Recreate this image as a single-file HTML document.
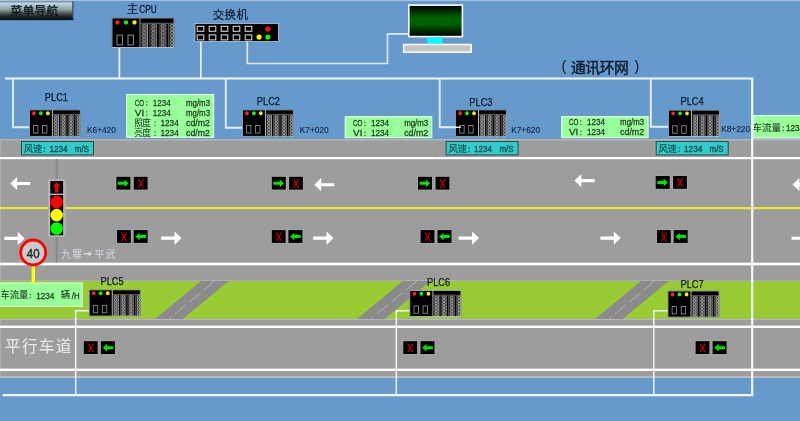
<!DOCTYPE html>
<html lang="zh">
<head>
<meta charset="utf-8">
<title>隧道监控</title>
<style>
html,body{margin:0;padding:0;background:#6699cc;overflow:hidden;}
body{width:800px;height:421px;font-family:"Liberation Sans",sans-serif;}
svg{display:block;position:absolute;left:-8px;top:-8px;}
text{white-space:pre;}
</style>
</head>
<body>
<svg width="816" height="437" viewBox="-8 -8 816 437" shape-rendering="geometricPrecision">
<defs>
<filter id="soft" filterUnits="userSpaceOnUse" x="-10" y="-10" width="820" height="441" color-interpolation-filters="sRGB"><feGaussianBlur stdDeviation="0.5"/></filter>
<linearGradient id="btn" x1="0" y1="0" x2="0" y2="1">
<stop offset="0" stop-color="#7d8c9b"/><stop offset="0.05" stop-color="#8d9dad"/><stop offset="0.12" stop-color="#b9d8ee"/><stop offset="0.28" stop-color="#a7bccb"/>
<stop offset="0.46" stop-color="#86a29f"/><stop offset="0.57" stop-color="#6e7868"/><stop offset="0.68" stop-color="#48505a"/>
<stop offset="0.81" stop-color="#242c30"/><stop offset="0.96" stop-color="#0c1214"/><stop offset="1" stop-color="#0a0f12"/></linearGradient>
<linearGradient id="scr" x1="0" y1="0" x2="0" y2="1">
<stop offset="0" stop-color="#000000"/><stop offset="0.1" stop-color="#001400"/><stop offset="0.38" stop-color="#005c00"/><stop offset="0.5" stop-color="#006600"/>
<stop offset="0.62" stop-color="#005c00"/><stop offset="0.9" stop-color="#001400"/><stop offset="1" stop-color="#000000"/></linearGradient>
<symbol id="plc" viewBox="0 0 63 30.5" preserveAspectRatio="none">
<rect x="0" y="0" width="63" height="30.5" fill="#000"/>
<rect x="29.80" y="6" width="5.80" height="24" fill="#3a3a3a"/>
<circle cx="32.60" cy="8.30" r="1.55" fill="none" stroke="#8a8a8a" stroke-width="1.0"/>
<circle cx="32.60" cy="11.80" r="1.55" fill="none" stroke="#8a8a8a" stroke-width="1.0"/>
<circle cx="32.60" cy="15.30" r="1.55" fill="none" stroke="#8a8a8a" stroke-width="1.0"/>
<circle cx="32.60" cy="18.80" r="1.55" fill="none" stroke="#8a8a8a" stroke-width="1.0"/>
<circle cx="32.60" cy="22.30" r="1.55" fill="none" stroke="#8a8a8a" stroke-width="1.0"/>
<circle cx="32.60" cy="25.80" r="1.55" fill="none" stroke="#8a8a8a" stroke-width="1.0"/>
<circle cx="32.60" cy="29.30" r="1.55" fill="none" stroke="#8a8a8a" stroke-width="1.0"/>
<rect x="35.40" y="6" width="0.8" height="24" fill="#d0d0d0"/>
<rect x="39.10" y="6" width="5.80" height="24" fill="#3a3a3a"/>
<circle cx="41.90" cy="8.30" r="1.55" fill="none" stroke="#8a8a8a" stroke-width="1.0"/>
<circle cx="41.90" cy="11.80" r="1.55" fill="none" stroke="#8a8a8a" stroke-width="1.0"/>
<circle cx="41.90" cy="15.30" r="1.55" fill="none" stroke="#8a8a8a" stroke-width="1.0"/>
<circle cx="41.90" cy="18.80" r="1.55" fill="none" stroke="#8a8a8a" stroke-width="1.0"/>
<circle cx="41.90" cy="22.30" r="1.55" fill="none" stroke="#8a8a8a" stroke-width="1.0"/>
<circle cx="41.90" cy="25.80" r="1.55" fill="none" stroke="#8a8a8a" stroke-width="1.0"/>
<circle cx="41.90" cy="29.30" r="1.55" fill="none" stroke="#8a8a8a" stroke-width="1.0"/>
<rect x="44.70" y="6" width="0.8" height="24" fill="#8f8f8f"/>
<rect x="38.00" y="6" width="0.7" height="24" fill="#6e6e6e"/>
<rect x="48.40" y="6" width="5.80" height="24" fill="#3a3a3a"/>
<circle cx="51.20" cy="8.30" r="1.55" fill="none" stroke="#8a8a8a" stroke-width="1.0"/>
<circle cx="51.20" cy="11.80" r="1.55" fill="none" stroke="#8a8a8a" stroke-width="1.0"/>
<circle cx="51.20" cy="15.30" r="1.55" fill="none" stroke="#8a8a8a" stroke-width="1.0"/>
<circle cx="51.20" cy="18.80" r="1.55" fill="none" stroke="#8a8a8a" stroke-width="1.0"/>
<circle cx="51.20" cy="22.30" r="1.55" fill="none" stroke="#8a8a8a" stroke-width="1.0"/>
<circle cx="51.20" cy="25.80" r="1.55" fill="none" stroke="#8a8a8a" stroke-width="1.0"/>
<circle cx="51.20" cy="29.30" r="1.55" fill="none" stroke="#8a8a8a" stroke-width="1.0"/>
<rect x="54.00" y="6" width="0.8" height="24" fill="#8f8f8f"/>
<rect x="47.30" y="6" width="0.7" height="24" fill="#6e6e6e"/>
<rect x="57.70" y="6" width="5.40" height="24" fill="#3a3a3a"/>
<circle cx="60.50" cy="8.30" r="1.55" fill="none" stroke="#8a8a8a" stroke-width="1.0"/>
<circle cx="60.50" cy="11.80" r="1.55" fill="none" stroke="#8a8a8a" stroke-width="1.0"/>
<circle cx="60.50" cy="15.30" r="1.55" fill="none" stroke="#8a8a8a" stroke-width="1.0"/>
<circle cx="60.50" cy="18.80" r="1.55" fill="none" stroke="#8a8a8a" stroke-width="1.0"/>
<circle cx="60.50" cy="22.30" r="1.55" fill="none" stroke="#8a8a8a" stroke-width="1.0"/>
<circle cx="60.50" cy="25.80" r="1.55" fill="none" stroke="#8a8a8a" stroke-width="1.0"/>
<circle cx="60.50" cy="29.30" r="1.55" fill="none" stroke="#8a8a8a" stroke-width="1.0"/>
<rect x="56.60" y="6" width="0.7" height="24" fill="#6e6e6e"/>
<rect x="28.6" y="5.3" width="34" height="0.9" fill="#6a6a6a"/>
<rect x="28.0" y="0.5" width="1.0" height="29.5" fill="#8a8a8a"/>
<circle cx="6.00" cy="5.0" r="2.15" fill="#ff2020"/>
<circle cx="14.50" cy="5.0" r="2.15" fill="#10f010"/>
<circle cx="23.00" cy="5.0" r="2.15" fill="#f4f000"/>
<rect x="5.50" y="17.6" width="5.4" height="9.8" fill="#000" stroke="#8e8e8e" stroke-width="1.0"/>
<rect x="16.50" y="17.6" width="5.4" height="9.8" fill="#000" stroke="#8e8e8e" stroke-width="1.0"/>
<rect x="0.4" y="0.4" width="62.2" height="29.7" fill="none" stroke="#c9d6e6" stroke-width="0.9"/>
</symbol>
<symbol id="plcs" viewBox="0 0 63 30.5" preserveAspectRatio="none">
<rect x="0" y="0" width="63" height="30.5" fill="#000"/>
<rect x="29.80" y="6" width="5.80" height="24" fill="#3c3c3c"/>
<circle cx="32.60" cy="8.30" r="1.55" fill="none" stroke="#acacac" stroke-width="1.0"/>
<circle cx="32.60" cy="11.80" r="1.55" fill="none" stroke="#acacac" stroke-width="1.0"/>
<circle cx="32.60" cy="15.30" r="1.55" fill="none" stroke="#acacac" stroke-width="1.0"/>
<circle cx="32.60" cy="18.80" r="1.55" fill="none" stroke="#acacac" stroke-width="1.0"/>
<circle cx="32.60" cy="22.30" r="1.55" fill="none" stroke="#acacac" stroke-width="1.0"/>
<circle cx="32.60" cy="25.80" r="1.55" fill="none" stroke="#acacac" stroke-width="1.0"/>
<circle cx="32.60" cy="29.30" r="1.55" fill="none" stroke="#acacac" stroke-width="1.0"/>
<rect x="35.40" y="6" width="0.8" height="24" fill="#e8e8e8"/>
<rect x="39.10" y="6" width="5.80" height="24" fill="#3c3c3c"/>
<circle cx="41.90" cy="8.30" r="1.55" fill="none" stroke="#acacac" stroke-width="1.0"/>
<circle cx="41.90" cy="11.80" r="1.55" fill="none" stroke="#acacac" stroke-width="1.0"/>
<circle cx="41.90" cy="15.30" r="1.55" fill="none" stroke="#acacac" stroke-width="1.0"/>
<circle cx="41.90" cy="18.80" r="1.55" fill="none" stroke="#acacac" stroke-width="1.0"/>
<circle cx="41.90" cy="22.30" r="1.55" fill="none" stroke="#acacac" stroke-width="1.0"/>
<circle cx="41.90" cy="25.80" r="1.55" fill="none" stroke="#acacac" stroke-width="1.0"/>
<circle cx="41.90" cy="29.30" r="1.55" fill="none" stroke="#acacac" stroke-width="1.0"/>
<rect x="44.70" y="6" width="0.8" height="24" fill="#8f8f8f"/>
<rect x="38.00" y="6" width="0.7" height="24" fill="#808080"/>
<rect x="48.40" y="6" width="5.80" height="24" fill="#3c3c3c"/>
<circle cx="51.20" cy="8.30" r="1.55" fill="none" stroke="#acacac" stroke-width="1.0"/>
<circle cx="51.20" cy="11.80" r="1.55" fill="none" stroke="#acacac" stroke-width="1.0"/>
<circle cx="51.20" cy="15.30" r="1.55" fill="none" stroke="#acacac" stroke-width="1.0"/>
<circle cx="51.20" cy="18.80" r="1.55" fill="none" stroke="#acacac" stroke-width="1.0"/>
<circle cx="51.20" cy="22.30" r="1.55" fill="none" stroke="#acacac" stroke-width="1.0"/>
<circle cx="51.20" cy="25.80" r="1.55" fill="none" stroke="#acacac" stroke-width="1.0"/>
<circle cx="51.20" cy="29.30" r="1.55" fill="none" stroke="#acacac" stroke-width="1.0"/>
<rect x="54.00" y="6" width="0.8" height="24" fill="#8f8f8f"/>
<rect x="47.30" y="6" width="0.7" height="24" fill="#808080"/>
<rect x="57.70" y="6" width="5.40" height="24" fill="#3c3c3c"/>
<circle cx="60.50" cy="8.30" r="1.55" fill="none" stroke="#acacac" stroke-width="1.0"/>
<circle cx="60.50" cy="11.80" r="1.55" fill="none" stroke="#acacac" stroke-width="1.0"/>
<circle cx="60.50" cy="15.30" r="1.55" fill="none" stroke="#acacac" stroke-width="1.0"/>
<circle cx="60.50" cy="18.80" r="1.55" fill="none" stroke="#acacac" stroke-width="1.0"/>
<circle cx="60.50" cy="22.30" r="1.55" fill="none" stroke="#acacac" stroke-width="1.0"/>
<circle cx="60.50" cy="25.80" r="1.55" fill="none" stroke="#acacac" stroke-width="1.0"/>
<circle cx="60.50" cy="29.30" r="1.55" fill="none" stroke="#acacac" stroke-width="1.0"/>
<rect x="56.60" y="6" width="0.7" height="24" fill="#808080"/>
<rect x="28.6" y="5.3" width="34" height="0.9" fill="#6a6a6a"/>
<rect x="28.0" y="0.5" width="1.0" height="29.5" fill="#dcdcdc"/>
<circle cx="6.00" cy="4.3" r="2.3" fill="#f42424"/>
<circle cx="14.50" cy="4.3" r="2.3" fill="#18ee18"/>
<circle cx="23.00" cy="4.3" r="2.3" fill="#f0ec10"/>
<rect x="5.50" y="18.0" width="5.4" height="8.4" fill="#000" stroke="#8e8e8e" stroke-width="1.0"/>
<rect x="16.50" y="18.0" width="5.4" height="8.4" fill="#000" stroke="#8e8e8e" stroke-width="1.0"/>
<rect x="0.4" y="0.4" width="62.2" height="29.7" fill="none" stroke="#c9d6e6" stroke-width="0.9"/>
</symbol>
</defs>
<g filter="url(#soft)">
<rect x="-10.00" y="-10.00" width="820.00" height="441.00" fill="#6699cc"/>
<rect x="-10.00" y="-10.00" width="820.00" height="11.00" fill="#a9c1dc"/>
<rect x="-10.00" y="139.00" width="820.00" height="239.00" fill="#9d9d9d"/>
<rect x="-10.00" y="139.00" width="820.00" height="1.60" fill="#b3b3b3"/>
<rect x="-10.00" y="376.00" width="820.00" height="2.00" fill="#b9b9b9"/>
<rect x="-10.00" y="139.00" width="10.90" height="239.00" fill="#b0b0b0"/>
<rect x="-10.00" y="281.20" width="820.00" height="37.60" fill="#99cc33"/>
<rect x="-10.00" y="280.20" width="820.00" height="1.00" fill="#b2b2b2"/>
<rect x="-10.00" y="318.80" width="820.00" height="1.20" fill="#b6b6b6"/>
<polygon points="155.00,318.90 182.80,318.90 228.70,281.00 200.90,281.00" fill="#8b8b8b"/>
<line x1="214.80" y1="281.00" x2="168.90" y2="318.90" stroke="#c6c6c6" stroke-width="0.7" stroke-dasharray="14.3 4.4"/>
<polygon points="357.00,318.90 384.80,318.90 430.70,281.00 402.90,281.00" fill="#8b8b8b"/>
<line x1="416.80" y1="281.00" x2="370.90" y2="318.90" stroke="#c6c6c6" stroke-width="0.7" stroke-dasharray="14.3 4.4"/>
<polygon points="595.00,318.90 622.80,318.90 668.70,281.00 640.90,281.00" fill="#8b8b8b"/>
<line x1="654.80" y1="281.00" x2="608.90" y2="318.90" stroke="#c6c6c6" stroke-width="0.7" stroke-dasharray="14.3 4.4"/>
<rect x="-10.00" y="157.00" width="820.00" height="2.20" fill="#ffffff"/>
<rect x="-10.00" y="207.00" width="820.00" height="2.10" fill="#ecec2a"/>
<rect x="-10.00" y="262.70" width="820.00" height="2.60" fill="#ffffff"/>
<rect x="-10.00" y="325.60" width="820.00" height="2.40" fill="#ffffff"/>
<rect x="-10.00" y="368.60" width="820.00" height="2.40" fill="#ffffff"/>
<rect x="126.70" y="94.50" width="87.00" height="42.80" fill="#99ff99" stroke="#f2fff2" stroke-width="1"/>
<rect x="345.20" y="116.70" width="86.60" height="21.00" fill="#99ff99" stroke="#f2fff2" stroke-width="1"/>
<rect x="561.70" y="116.70" width="86.40" height="21.00" fill="#99ff99" stroke="#f2fff2" stroke-width="1"/>
<rect x="753.00" y="115.60" width="70.00" height="22.40" fill="#99ff99" stroke="#f2fff2" stroke-width="1"/>
<rect x="-12.00" y="283.00" width="94.30" height="23.40" fill="#99ff99" stroke="#e6ffe0" stroke-width="1"/>
<text x="134.80" y="105.60" font-family="'Liberation Sans', sans-serif" font-size="9.0" fill="#24422a" stroke="#24422a" stroke-width="0.3" textLength="9.40" lengthAdjust="spacingAndGlyphs">CO</text>
<rect x="146.15" y="101.00" width="1.15" height="1.2" fill="#24422a"/>
<rect x="146.15" y="104.30" width="1.15" height="1.2" fill="#24422a"/>
<text x="152.80" y="105.60" font-family="'Liberation Sans', sans-serif" font-size="9.0" fill="#24422a" stroke="#24422a" stroke-width="0.3" textLength="18.00" lengthAdjust="spacingAndGlyphs">1234</text>
<text x="186.00" y="105.60" font-family="'Liberation Sans', sans-serif" font-size="9.0" fill="#24422a" stroke="#24422a" stroke-width="0.3" textLength="24.00" lengthAdjust="spacingAndGlyphs">mg/m3</text>
<text x="134.80" y="115.80" font-family="'Liberation Sans', sans-serif" font-size="9.0" fill="#24422a" stroke="#24422a" stroke-width="0.3" textLength="9.40" lengthAdjust="spacingAndGlyphs">VI</text>
<rect x="146.15" y="111.20" width="1.15" height="1.2" fill="#24422a"/>
<rect x="146.15" y="114.50" width="1.15" height="1.2" fill="#24422a"/>
<text x="152.80" y="115.80" font-family="'Liberation Sans', sans-serif" font-size="9.0" fill="#24422a" stroke="#24422a" stroke-width="0.3" textLength="18.00" lengthAdjust="spacingAndGlyphs">1234</text>
<text x="186.00" y="115.80" font-family="'Liberation Sans', sans-serif" font-size="9.0" fill="#24422a" stroke="#24422a" stroke-width="0.3" textLength="24.00" lengthAdjust="spacingAndGlyphs">mg/m3</text>
<text x="134.20 142.30" y="125.80" font-family="'Liberation Sans', 'Noto Sans CJK SC', sans-serif" font-size="8.6" fill="#24422a" stroke="#24422a" stroke-width="0.1">照度</text>
<rect x="154.45" y="121.40" width="1.15" height="1.2" fill="#24422a"/>
<rect x="154.45" y="124.70" width="1.15" height="1.2" fill="#24422a"/>
<text x="160.40" y="126.00" font-family="'Liberation Sans', sans-serif" font-size="9.0" fill="#24422a" stroke="#24422a" stroke-width="0.3" textLength="18.40" lengthAdjust="spacingAndGlyphs">1234</text>
<text x="186.00" y="126.00" font-family="'Liberation Sans', sans-serif" font-size="9.0" fill="#24422a" stroke="#24422a" stroke-width="0.3" textLength="24.00" lengthAdjust="spacingAndGlyphs">cd/m2</text>
<text x="134.20 142.30" y="135.80" font-family="'Liberation Sans', 'Noto Sans CJK SC', sans-serif" font-size="8.6" fill="#24422a" stroke="#24422a" stroke-width="0.1">亮度</text>
<rect x="154.45" y="131.40" width="1.15" height="1.2" fill="#24422a"/>
<rect x="154.45" y="134.70" width="1.15" height="1.2" fill="#24422a"/>
<text x="160.40" y="136.00" font-family="'Liberation Sans', sans-serif" font-size="9.0" fill="#24422a" stroke="#24422a" stroke-width="0.3" textLength="18.40" lengthAdjust="spacingAndGlyphs">1234</text>
<text x="186.00" y="136.00" font-family="'Liberation Sans', sans-serif" font-size="9.0" fill="#24422a" stroke="#24422a" stroke-width="0.3" textLength="24.00" lengthAdjust="spacingAndGlyphs">cd/m2</text>
<text x="353.00" y="126.30" font-family="'Liberation Sans', sans-serif" font-size="9.0" fill="#24422a" stroke="#24422a" stroke-width="0.3" textLength="9.40" lengthAdjust="spacingAndGlyphs">CO</text>
<rect x="364.35" y="121.70" width="1.15" height="1.2" fill="#24422a"/>
<rect x="364.35" y="125.00" width="1.15" height="1.2" fill="#24422a"/>
<text x="371.00" y="126.30" font-family="'Liberation Sans', sans-serif" font-size="9.0" fill="#24422a" stroke="#24422a" stroke-width="0.3" textLength="18.00" lengthAdjust="spacingAndGlyphs">1234</text>
<text x="404.20" y="126.30" font-family="'Liberation Sans', sans-serif" font-size="9.0" fill="#24422a" stroke="#24422a" stroke-width="0.3" textLength="24.00" lengthAdjust="spacingAndGlyphs">mg/m3</text>
<text x="353.00" y="136.30" font-family="'Liberation Sans', sans-serif" font-size="9.0" fill="#24422a" stroke="#24422a" stroke-width="0.3" textLength="9.40" lengthAdjust="spacingAndGlyphs">VI</text>
<rect x="364.35" y="131.70" width="1.15" height="1.2" fill="#24422a"/>
<rect x="364.35" y="135.00" width="1.15" height="1.2" fill="#24422a"/>
<text x="371.00" y="136.30" font-family="'Liberation Sans', sans-serif" font-size="9.0" fill="#24422a" stroke="#24422a" stroke-width="0.3" textLength="18.00" lengthAdjust="spacingAndGlyphs">1234</text>
<text x="404.20" y="136.30" font-family="'Liberation Sans', sans-serif" font-size="9.0" fill="#24422a" stroke="#24422a" stroke-width="0.3" textLength="24.00" lengthAdjust="spacingAndGlyphs">cd/m2</text>
<text x="568.90" y="125.10" font-family="'Liberation Sans', sans-serif" font-size="9.0" fill="#24422a" stroke="#24422a" stroke-width="0.3" textLength="9.40" lengthAdjust="spacingAndGlyphs">CO</text>
<rect x="580.25" y="120.50" width="1.15" height="1.2" fill="#24422a"/>
<rect x="580.25" y="123.80" width="1.15" height="1.2" fill="#24422a"/>
<text x="586.90" y="125.10" font-family="'Liberation Sans', sans-serif" font-size="9.0" fill="#24422a" stroke="#24422a" stroke-width="0.3" textLength="18.00" lengthAdjust="spacingAndGlyphs">1234</text>
<text x="620.10" y="125.10" font-family="'Liberation Sans', sans-serif" font-size="9.0" fill="#24422a" stroke="#24422a" stroke-width="0.3" textLength="24.00" lengthAdjust="spacingAndGlyphs">mg/m3</text>
<text x="568.90" y="135.30" font-family="'Liberation Sans', sans-serif" font-size="9.0" fill="#24422a" stroke="#24422a" stroke-width="0.3" textLength="9.40" lengthAdjust="spacingAndGlyphs">VI</text>
<rect x="580.25" y="130.70" width="1.15" height="1.2" fill="#24422a"/>
<rect x="580.25" y="134.00" width="1.15" height="1.2" fill="#24422a"/>
<text x="586.90" y="135.30" font-family="'Liberation Sans', sans-serif" font-size="9.0" fill="#24422a" stroke="#24422a" stroke-width="0.3" textLength="18.00" lengthAdjust="spacingAndGlyphs">1234</text>
<text x="620.10" y="135.30" font-family="'Liberation Sans', sans-serif" font-size="9.0" fill="#24422a" stroke="#24422a" stroke-width="0.3" textLength="24.00" lengthAdjust="spacingAndGlyphs">cd/m2</text>
<text x="752.60 762.10 771.60" y="130.80" font-family="'Liberation Sans', 'Noto Sans CJK SC', sans-serif" font-size="9.6" fill="#24422a" stroke="#24422a" stroke-width="0.1">车流量</text>
<rect x="782.75" y="126.60" width="1.15" height="1.2" fill="#24422a"/>
<rect x="782.75" y="129.90" width="1.15" height="1.2" fill="#24422a"/>
<text x="786.00" y="131.30" font-family="'Liberation Sans', sans-serif" font-size="9.0" fill="#24422a" stroke="#24422a" stroke-width="0.3" textLength="18.20" lengthAdjust="spacingAndGlyphs">1234</text>
<text x="0.60 9.80 19.00" y="298.20" font-family="'Liberation Sans', 'Noto Sans CJK SC', sans-serif" font-size="9.4" fill="#24422a" stroke="#24422a" stroke-width="0.1">车流量</text>
<rect x="29.65" y="293.90" width="1.15" height="1.2" fill="#24422a"/>
<rect x="29.65" y="297.20" width="1.15" height="1.2" fill="#24422a"/>
<text x="36.20" y="298.50" font-family="'Liberation Sans', sans-serif" font-size="9.0" fill="#24422a" stroke="#24422a" stroke-width="0.3" textLength="18.20" lengthAdjust="spacingAndGlyphs">1234</text>
<text x="60.80" y="298.20" font-family="'Liberation Sans', 'Noto Sans CJK SC', sans-serif" font-size="9.4" fill="#24422a" stroke="#24422a" stroke-width="0.1">辆</text>
<text x="71.80" y="298.50" font-family="'Liberation Sans', sans-serif" font-size="9.0" fill="#24422a" stroke="#24422a" stroke-width="0.3" textLength="7.80" lengthAdjust="spacingAndGlyphs">/H</text>
<rect x="21.50" y="141.50" width="72.00" height="13.40" fill="#33cccc" stroke="#2b4a4a" stroke-width="1"/>
<text x="23.80 32.90" y="151.70" font-family="'Liberation Sans', 'Noto Sans CJK SC', sans-serif" font-size="9.4" fill="#0b4648" stroke="#0b4648" stroke-width="0.12">风速</text>
<rect x="43.85" y="147.30" width="1.15" height="1.2" fill="#0b4648"/>
<rect x="43.85" y="150.60" width="1.15" height="1.2" fill="#0b4648"/>
<text x="49.40" y="151.90" font-family="'Liberation Sans', sans-serif" font-size="9.0" fill="#0b4648" stroke="#0b4648" stroke-width="0.3" textLength="18.10" lengthAdjust="spacingAndGlyphs">1234</text>
<text x="74.80" y="151.90" font-family="'Liberation Sans', sans-serif" font-size="9.0" fill="#0b4648" stroke="#0b4648" stroke-width="0.3" textLength="14.20" lengthAdjust="spacingAndGlyphs">m/S</text>
<rect x="446.10" y="141.50" width="72.00" height="13.40" fill="#33cccc" stroke="#2b4a4a" stroke-width="1"/>
<text x="448.40 457.50" y="151.70" font-family="'Liberation Sans', 'Noto Sans CJK SC', sans-serif" font-size="9.4" fill="#0b4648" stroke="#0b4648" stroke-width="0.12">风速</text>
<rect x="468.45" y="147.30" width="1.15" height="1.2" fill="#0b4648"/>
<rect x="468.45" y="150.60" width="1.15" height="1.2" fill="#0b4648"/>
<text x="474.00" y="151.90" font-family="'Liberation Sans', sans-serif" font-size="9.0" fill="#0b4648" stroke="#0b4648" stroke-width="0.3" textLength="18.10" lengthAdjust="spacingAndGlyphs">1234</text>
<text x="499.40" y="151.90" font-family="'Liberation Sans', sans-serif" font-size="9.0" fill="#0b4648" stroke="#0b4648" stroke-width="0.3" textLength="14.20" lengthAdjust="spacingAndGlyphs">m/S</text>
<rect x="656.20" y="141.50" width="72.00" height="13.40" fill="#33cccc" stroke="#2b4a4a" stroke-width="1"/>
<text x="658.50 667.60" y="151.70" font-family="'Liberation Sans', 'Noto Sans CJK SC', sans-serif" font-size="9.4" fill="#0b4648" stroke="#0b4648" stroke-width="0.12">风速</text>
<rect x="678.55" y="147.30" width="1.15" height="1.2" fill="#0b4648"/>
<rect x="678.55" y="150.60" width="1.15" height="1.2" fill="#0b4648"/>
<text x="684.10" y="151.90" font-family="'Liberation Sans', sans-serif" font-size="9.0" fill="#0b4648" stroke="#0b4648" stroke-width="0.3" textLength="18.10" lengthAdjust="spacingAndGlyphs">1234</text>
<text x="709.50" y="151.90" font-family="'Liberation Sans', sans-serif" font-size="9.0" fill="#0b4648" stroke="#0b4648" stroke-width="0.3" textLength="14.20" lengthAdjust="spacingAndGlyphs">m/S</text>
<polyline points="5.00,78.50 752.20,78.50 752.20,395.20 2.50,395.20" fill="none" stroke="#f3f6fb" stroke-width="2.2"/>
<polyline points="13.00,78.50 13.00,127.20 30.00,127.20" fill="none" stroke="#e6eef9" stroke-width="1.9"/>
<polyline points="225.80,78.50 225.80,127.70 243.00,127.70" fill="none" stroke="#e6eef9" stroke-width="1.9"/>
<polyline points="439.70,78.50 439.70,127.30 461.00,127.30" fill="none" stroke="#e6eef9" stroke-width="1.9"/>
<polyline points="650.80,78.50 650.80,126.70 669.00,126.70" fill="none" stroke="#e6eef9" stroke-width="1.9"/>
<line x1="119.40" y1="47.00" x2="119.40" y2="78.50" stroke="#f3f6fb" stroke-width="1.7"/>
<line x1="200.80" y1="41.00" x2="200.80" y2="78.50" stroke="#f3f6fb" stroke-width="1.7"/>
<polyline points="247.30,41.00 247.30,63.50 387.50,63.50 387.50,33.90 409.00,33.90" fill="none" stroke="#dde8f5" stroke-width="1.7"/>
<polyline points="90.00,310.80 75.70,310.80 75.70,395.00" fill="none" stroke="#f0f3f8" stroke-width="1.5"/>
<polyline points="410.00,310.80 396.30,310.80 396.30,395.00" fill="none" stroke="#f0f3f8" stroke-width="1.5"/>
<polyline points="668.00,310.80 653.80,310.80 653.80,395.00" fill="none" stroke="#f0f3f8" stroke-width="1.5"/>
<use href="#plc" x="111.50" y="17.50" width="63.00" height="30.50"/>
<use href="#plcs" x="29.00" y="109.50" width="51.60" height="27.20"/>
<use href="#plcs" x="242.00" y="109.50" width="51.60" height="27.20"/>
<use href="#plcs" x="455.20" y="109.50" width="51.60" height="27.20"/>
<use href="#plcs" x="668.20" y="109.70" width="51.60" height="27.20"/>
<use href="#plcs" x="88.80" y="289.50" width="51.80" height="26.90"/>
<use href="#plcs" x="409.50" y="290.00" width="51.80" height="26.90"/>
<use href="#plcs" x="667.60" y="290.60" width="51.80" height="26.90"/>
<line x1="455.00" y1="127.30" x2="461.00" y2="127.30" stroke="#f3f6fb" stroke-width="1.4"/>
<rect x="195.00" y="23.50" width="83.50" height="18.00" fill="#000" stroke="#b9cade" stroke-width="0.8"/>
<rect x="197.20" y="26.30" width="6.60" height="5.00" fill="#000" stroke="#cfcfcf" stroke-width="1.1"/>
<rect x="197.20" y="34.90" width="6.60" height="5.00" fill="#000" stroke="#cfcfcf" stroke-width="1.1"/>
<rect x="209.20" y="26.30" width="6.60" height="5.00" fill="#000" stroke="#cfcfcf" stroke-width="1.1"/>
<rect x="209.20" y="34.90" width="6.60" height="5.00" fill="#000" stroke="#cfcfcf" stroke-width="1.1"/>
<rect x="221.20" y="26.30" width="6.60" height="5.00" fill="#000" stroke="#cfcfcf" stroke-width="1.1"/>
<rect x="221.20" y="34.90" width="6.60" height="5.00" fill="#000" stroke="#cfcfcf" stroke-width="1.1"/>
<rect x="233.20" y="26.30" width="6.60" height="5.00" fill="#000" stroke="#cfcfcf" stroke-width="1.1"/>
<rect x="233.20" y="34.90" width="6.60" height="5.00" fill="#000" stroke="#cfcfcf" stroke-width="1.1"/>
<rect x="245.20" y="26.30" width="6.60" height="5.00" fill="#000" stroke="#cfcfcf" stroke-width="1.1"/>
<rect x="245.20" y="34.90" width="6.60" height="5.00" fill="#000" stroke="#cfcfcf" stroke-width="1.1"/>
<circle cx="267.9" cy="29.0" r="2.6" fill="#ff1010"/>
<circle cx="267.9" cy="37.1" r="2.6" fill="#10f010"/>
<circle cx="259.1" cy="37.1" r="2.6" fill="#f6f000"/>
<rect x="408.80" y="5.10" width="53.60" height="31.50" fill="url(#scr)" stroke="#ffffff" stroke-width="1.6"/>
<rect x="427.30" y="37.20" width="15.20" height="6.80" fill="#00ffff"/>
<rect x="403.60" y="44.50" width="67.60" height="7.70" fill="#c4c4c4" stroke="#ffffff" stroke-width="1.5"/>
<rect x="-11.00" y="19.40" width="84.60" height="1.30" fill="#4b6f9f"/>
<rect x="-11.00" y="1.00" width="84.00" height="18.60" fill="url(#btn)"/>
<rect x="72.20" y="1.20" width="1.30" height="18.60" fill="#3a4c66"/>
<rect x="-11.00" y="18.60" width="84.00" height="1.20" fill="#0a1010"/>
<text x="10.40 22.40 34.40 46.40" y="15.20" font-family="'Liberation Sans', 'Noto Sans CJK SC', sans-serif" font-size="11.8" fill="#0c1418" stroke="#0c1418" stroke-width="0.3">菜单导航</text>
<rect x="115.80" y="176.20" width="15.20" height="14.00" fill="#a8a8a8"/>
<rect x="116.40" y="176.80" width="14.00" height="12.80" fill="#000"/>
<path d="M118.00 181.80 H124.40 V179.40 L128.60 183.30 L124.40 187.20 V184.80 H118.00 Z" fill="#00e400"/>
<rect x="133.20" y="176.20" width="15.00" height="14.00" fill="#a8a8a8"/>
<rect x="133.80" y="176.80" width="13.80" height="12.80" fill="#000"/>
<path d="M138.40 179.20 L143.40 187.80 M143.40 179.20 L138.40 187.80" stroke="#b40000" stroke-width="1.4" fill="none"/>
<rect x="271.20" y="176.20" width="15.20" height="14.00" fill="#a8a8a8"/>
<rect x="271.80" y="176.80" width="14.00" height="12.80" fill="#000"/>
<path d="M273.40 181.80 H279.80 V179.40 L284.00 183.30 L279.80 187.20 V184.80 H273.40 Z" fill="#00e400"/>
<rect x="288.50" y="176.20" width="15.00" height="14.00" fill="#a8a8a8"/>
<rect x="289.10" y="176.80" width="13.80" height="12.80" fill="#000"/>
<path d="M293.70 179.20 L298.70 187.80 M298.70 179.20 L293.70 187.80" stroke="#b40000" stroke-width="1.4" fill="none"/>
<rect x="417.40" y="176.20" width="15.20" height="14.00" fill="#a8a8a8"/>
<rect x="418.00" y="176.80" width="14.00" height="12.80" fill="#000"/>
<path d="M419.60 181.80 H426.00 V179.40 L430.20 183.30 L426.00 187.20 V184.80 H419.60 Z" fill="#00e400"/>
<rect x="435.00" y="176.20" width="15.00" height="14.00" fill="#a8a8a8"/>
<rect x="435.60" y="176.80" width="13.80" height="12.80" fill="#000"/>
<path d="M440.20 179.20 L445.20 187.80 M445.20 179.20 L440.20 187.80" stroke="#b40000" stroke-width="1.4" fill="none"/>
<rect x="655.10" y="175.40" width="15.20" height="14.00" fill="#a8a8a8"/>
<rect x="655.70" y="176.00" width="14.00" height="12.80" fill="#000"/>
<path d="M657.30 181.00 H663.70 V178.60 L667.90 182.50 L663.70 186.40 V184.00 H657.30 Z" fill="#00e400"/>
<rect x="672.50" y="175.40" width="15.00" height="14.00" fill="#a8a8a8"/>
<rect x="673.10" y="176.00" width="13.80" height="12.80" fill="#000"/>
<path d="M677.70 178.40 L682.70 187.00 M682.70 178.40 L677.70 187.00" stroke="#b40000" stroke-width="1.4" fill="none"/>
<rect x="116.40" y="229.50" width="15.00" height="14.00" fill="#a8a8a8"/>
<rect x="117.00" y="230.10" width="13.80" height="12.80" fill="#000"/>
<path d="M121.60 232.50 L126.60 241.10 M126.60 232.50 L121.60 241.10" stroke="#b40000" stroke-width="1.4" fill="none"/>
<rect x="133.10" y="229.50" width="15.20" height="14.00" fill="#a8a8a8"/>
<rect x="133.70" y="230.10" width="14.00" height="12.80" fill="#000"/>
<path d="M146.10 235.10 H139.70 V232.70 L135.50 236.60 L139.70 240.50 V238.10 H146.10 Z" fill="#00e400"/>
<rect x="271.20" y="229.50" width="15.00" height="14.00" fill="#a8a8a8"/>
<rect x="271.80" y="230.10" width="13.80" height="12.80" fill="#000"/>
<path d="M276.40 232.50 L281.40 241.10 M281.40 232.50 L276.40 241.10" stroke="#b40000" stroke-width="1.4" fill="none"/>
<rect x="287.80" y="229.50" width="15.20" height="14.00" fill="#a8a8a8"/>
<rect x="288.40" y="230.10" width="14.00" height="12.80" fill="#000"/>
<path d="M300.80 235.10 H294.40 V232.70 L290.20 236.60 L294.40 240.50 V238.10 H300.80 Z" fill="#00e400"/>
<rect x="420.00" y="229.50" width="15.00" height="14.00" fill="#a8a8a8"/>
<rect x="420.60" y="230.10" width="13.80" height="12.80" fill="#000"/>
<path d="M425.20 232.50 L430.20 241.10 M430.20 232.50 L425.20 241.10" stroke="#b40000" stroke-width="1.4" fill="none"/>
<rect x="436.90" y="229.50" width="15.20" height="14.00" fill="#a8a8a8"/>
<rect x="437.50" y="230.10" width="14.00" height="12.80" fill="#000"/>
<path d="M449.90 235.10 H443.50 V232.70 L439.30 236.60 L443.50 240.50 V238.10 H449.90 Z" fill="#00e400"/>
<rect x="656.40" y="229.50" width="15.00" height="14.00" fill="#a8a8a8"/>
<rect x="657.00" y="230.10" width="13.80" height="12.80" fill="#000"/>
<path d="M661.60 232.50 L666.60 241.10 M666.60 232.50 L661.60 241.10" stroke="#b40000" stroke-width="1.4" fill="none"/>
<rect x="673.10" y="229.50" width="15.20" height="14.00" fill="#a8a8a8"/>
<rect x="673.70" y="230.10" width="14.00" height="12.80" fill="#000"/>
<path d="M686.10 235.10 H679.70 V232.70 L675.50 236.60 L679.70 240.50 V238.10 H686.10 Z" fill="#00e400"/>
<rect x="83.20" y="340.60" width="15.00" height="14.00" fill="#a8a8a8"/>
<rect x="83.80" y="341.20" width="13.80" height="12.80" fill="#000"/>
<path d="M88.40 343.60 L93.40 352.20 M93.40 343.60 L88.40 352.20" stroke="#b40000" stroke-width="1.4" fill="none"/>
<rect x="100.30" y="340.60" width="15.20" height="14.00" fill="#a8a8a8"/>
<rect x="100.90" y="341.20" width="14.00" height="12.80" fill="#000"/>
<path d="M113.30 346.20 H106.90 V343.80 L102.70 347.70 L106.90 351.60 V349.20 H113.30 Z" fill="#00e400"/>
<rect x="402.70" y="340.60" width="15.00" height="14.00" fill="#a8a8a8"/>
<rect x="403.30" y="341.20" width="13.80" height="12.80" fill="#000"/>
<path d="M407.90 343.60 L412.90 352.20 M412.90 343.60 L407.90 352.20" stroke="#b40000" stroke-width="1.4" fill="none"/>
<rect x="419.90" y="340.60" width="15.20" height="14.00" fill="#a8a8a8"/>
<rect x="420.50" y="341.20" width="14.00" height="12.80" fill="#000"/>
<path d="M432.90 346.20 H426.50 V343.80 L422.30 347.70 L426.50 351.60 V349.20 H432.90 Z" fill="#00e400"/>
<rect x="695.00" y="340.60" width="15.00" height="14.00" fill="#a8a8a8"/>
<rect x="695.60" y="341.20" width="13.80" height="12.80" fill="#000"/>
<path d="M700.20 343.60 L705.20 352.20 M705.20 343.60 L700.20 352.20" stroke="#b40000" stroke-width="1.4" fill="none"/>
<rect x="712.00" y="340.60" width="15.20" height="14.00" fill="#a8a8a8"/>
<rect x="712.60" y="341.20" width="14.00" height="12.80" fill="#000"/>
<path d="M725.00 346.20 H718.60 V343.80 L714.40 347.70 L718.60 351.60 V349.20 H725.00 Z" fill="#00e400"/>
<path d="M10.20 183.50 L17.10 176.90 V181.95 H30.20 V185.05 H17.10 V190.10 Z" fill="#ffffff"/>
<path d="M314.30 184.70 L321.20 178.10 V183.15 H334.30 V186.25 H321.20 V191.30 Z" fill="#ffffff"/>
<path d="M574.50 180.60 L581.40 174.00 V179.05 H594.50 V182.15 H581.40 V187.20 Z" fill="#ffffff"/>
<path d="M792.50 184.50 L799.40 177.90 V182.95 H812.50 V186.05 H799.40 V191.10 Z" fill="#ffffff"/>
<path d="M24.60 238.40 L17.70 231.80 V236.85 H4.30 V239.95 H17.70 V245.00 Z" fill="#ffffff"/>
<path d="M181.50 238.10 L174.60 231.50 V236.55 H161.20 V239.65 H174.60 V244.70 Z" fill="#ffffff"/>
<path d="M333.50 238.10 L326.60 231.50 V236.55 H313.20 V239.65 H326.60 V244.70 Z" fill="#ffffff"/>
<path d="M479.00 238.10 L472.10 231.50 V236.55 H458.70 V239.65 H472.10 V244.70 Z" fill="#ffffff"/>
<path d="M620.70 238.10 L613.80 231.50 V236.55 H600.40 V239.65 H613.80 V244.70 Z" fill="#ffffff"/>
<path d="M811.80 238.20 L804.90 231.60 V236.65 H791.50 V239.75 H804.90 V244.80 Z" fill="#ffffff"/>
<line x1="56.60" y1="159.00" x2="56.60" y2="180.00" stroke="#868686" stroke-width="1.8"/>
<line x1="56.60" y1="235.00" x2="56.60" y2="262.50" stroke="#868686" stroke-width="1.8"/>
<rect x="47.90" y="178.90" width="17.60" height="58.10" fill="#b4b4b4" rx="1.8"/>
<rect x="50.30" y="181.10" width="12.80" height="12.50" fill="#000"/>
<rect x="50.30" y="195.10" width="12.80" height="40.10" fill="#000"/>
<path d="M56.7 182.3 L60.7 186.4 H58.3 V192.6 H55.1 V186.4 H52.7 Z" fill="#f00000"/>
<circle cx="56.7" cy="202.1" r="6.3" fill="#ff0000"/>
<circle cx="56.7" cy="215.1" r="6.3" fill="#ffff00"/>
<circle cx="56.7" cy="228.5" r="6.3" fill="#00ff00"/>
<rect x="31.60" y="265.00" width="3.40" height="18.00" fill="#ffff00"/>
<circle cx="33.2" cy="252.5" r="12.5" fill="#cacaca" stroke="#ff0000" stroke-width="2.8"/>
<text x="33.20" y="257.50" font-family="'Liberation Sans', sans-serif" font-size="12.8" fill="#262e3c" text-anchor="middle" stroke="#262e3c" stroke-width="0.45" textLength="12.80" lengthAdjust="spacingAndGlyphs">40</text>
<text x="126.80" y="12.60" font-family="'Liberation Sans', 'Noto Sans CJK SC', sans-serif" font-size="11.6" fill="#0e1828" stroke="#0e1828" stroke-width="0.2">主</text>
<text x="139.30" y="12.60" font-family="'Liberation Sans', sans-serif" font-size="11.4" fill="#0e1828" text-anchor="start" stroke="#0e1828" stroke-width="0.25" textLength="17.40" lengthAdjust="spacingAndGlyphs">CPU</text>
<text x="212.80 224.60 236.40" y="18.70" font-family="'Liberation Sans', 'Noto Sans CJK SC', sans-serif" font-size="11.4" fill="#0e1828" stroke="#0e1828" stroke-width="0.2">交换机</text>
<text x="44.80" y="100.60" font-family="'Liberation Sans', sans-serif" font-size="11.2" fill="#0e1828" text-anchor="start" stroke="#0e1828" stroke-width="0.25" textLength="23.20" lengthAdjust="spacingAndGlyphs">PLC1</text>
<text x="256.80" y="104.90" font-family="'Liberation Sans', sans-serif" font-size="11.2" fill="#0e1828" text-anchor="start" stroke="#0e1828" stroke-width="0.25" textLength="23.20" lengthAdjust="spacingAndGlyphs">PLC2</text>
<text x="469.30" y="105.80" font-family="'Liberation Sans', sans-serif" font-size="11.2" fill="#0e1828" text-anchor="start" stroke="#0e1828" stroke-width="0.25" textLength="23.20" lengthAdjust="spacingAndGlyphs">PLC3</text>
<text x="680.50" y="104.60" font-family="'Liberation Sans', sans-serif" font-size="11.2" fill="#0e1828" text-anchor="start" stroke="#0e1828" stroke-width="0.25" textLength="23.20" lengthAdjust="spacingAndGlyphs">PLC4</text>
<text x="100.50" y="285.00" font-family="'Liberation Sans', sans-serif" font-size="11.2" fill="#0e1828" text-anchor="start" stroke="#0e1828" stroke-width="0.25" textLength="23.20" lengthAdjust="spacingAndGlyphs">PLC5</text>
<text x="427.00" y="286.30" font-family="'Liberation Sans', sans-serif" font-size="11.2" fill="#0e1828" text-anchor="start" stroke="#0e1828" stroke-width="0.25" textLength="23.20" lengthAdjust="spacingAndGlyphs">PLC6</text>
<text x="680.50" y="288.00" font-family="'Liberation Sans', sans-serif" font-size="11.2" fill="#0e1828" text-anchor="start" stroke="#0e1828" stroke-width="0.25" textLength="23.20" lengthAdjust="spacingAndGlyphs">PLC7</text>
<text x="87.00" y="132.60" font-family="'Liberation Sans', sans-serif" font-size="8.8" fill="#16233c" text-anchor="start" stroke="#16233c" stroke-width="0.12" textLength="28.80" lengthAdjust="spacingAndGlyphs">K6+420</text>
<text x="299.80" y="132.70" font-family="'Liberation Sans', sans-serif" font-size="8.8" fill="#16233c" text-anchor="start" stroke="#16233c" stroke-width="0.12" textLength="28.80" lengthAdjust="spacingAndGlyphs">K7+020</text>
<text x="511.20" y="132.70" font-family="'Liberation Sans', sans-serif" font-size="8.8" fill="#16233c" text-anchor="start" stroke="#16233c" stroke-width="0.12" textLength="28.80" lengthAdjust="spacingAndGlyphs">K7+620</text>
<text x="721.20" y="131.90" font-family="'Liberation Sans', sans-serif" font-size="8.8" fill="#16233c" text-anchor="start" stroke="#16233c" stroke-width="0.12" textLength="28.80" lengthAdjust="spacingAndGlyphs">K8+220</text>
<text x="561.50" y="71.20" font-family="'Liberation Sans', sans-serif" font-size="14.5" fill="#0e1828" text-anchor="start">(</text>
<text x="634.60" y="71.20" font-family="'Liberation Sans', sans-serif" font-size="14.5" fill="#0e1828" text-anchor="start">)</text>
<text x="570.90 585.30 599.70 614.10" y="72.50" font-family="'Liberation Sans', 'Noto Sans CJK SC', sans-serif" font-size="14.8" fill="#0e1828" stroke="#0e1828" stroke-width="0.4">通讯环网</text>
<text x="61.00 72.10" y="258.00" font-family="'Liberation Sans', 'Noto Sans CJK SC', sans-serif" font-size="10.2" fill="#d6d9e2">九寨</text>
<path d="M83.8 253.1 H88.6 V251.2 L92.2 253.8 L88.6 256.4 V254.5 H83.8 Z" fill="#d6d9e2"/>
<text x="94.30 105.50" y="258.00" font-family="'Liberation Sans', 'Noto Sans CJK SC', sans-serif" font-size="10.2" fill="#d6d9e2">平武</text>
<text x="4.90 21.90 38.90 55.90" y="352.40" font-family="'Liberation Sans', 'Noto Sans CJK SC', sans-serif" font-size="15.4" fill="#e6e6ea" stroke="#e6e6ea" stroke-width="0.12">平行车道</text>
</g>
</svg>
</body>
</html>
